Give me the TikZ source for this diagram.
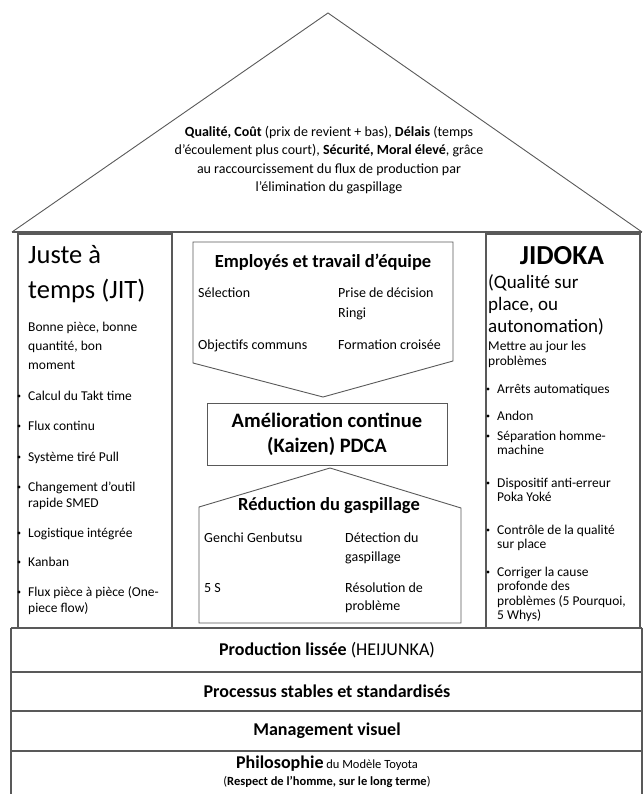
\documentclass[tikz,border=0pt]{standalone}
\usepackage{fontspec}
\setmainfont{Carlito}

% lines stacked from the first baseline down
\newcommand{\stacked}[1]{\begin{tabular}[t]{@{}l@{}}#1\end{tabular}}

\begin{document}
\begin{tikzpicture}[
    x=1pt, y=-1pt,
    wall/.style={draw=black!65, line width=1.1pt},
    thinwall/.style={draw=black!65, line width=0.9pt},
    txt/.style={inner sep=0pt, anchor=base west},
    body/.style={txt, font=\fontsize{14}{19}\selectfont},
    item/.style={txt, font=\fontsize{13.5}{16.5}\selectfont},
    dot/.style={circle, fill=black, inner sep=1.1pt},
    boxhead/.style={inner sep=0pt, font=\bfseries\fontsize{18.5}{22}\selectfont},
    band/.style={inner sep=0pt, font=\bfseries\fontsize{18}{22}\selectfont}
]

\newcommand{\pillarItem}[4]{%
    \node[dot] (#1-dot) at ({#2-9},{#3-4}) {};
    \node[item] (#1) at (#2,#3) {\stacked{#4}};
}

\useasboundingbox (0,0) rectangle (643,794);

% roof
\draw[thinwall] (12,232) -- (328,13) -- (642,232);
\draw[wall, line width=1.6pt] (12,232) -- (642,232);
\node[align=center, inner sep=0pt, font=\fontsize{14}{18.5}\selectfont] (goal) at (329,160)
    {\textbf{Qualité, Coût} (prix de revient + bas), \textbf{Délais} (temps\\
     d’écoulement plus court), \textbf{Sécurité, Moral élevé}, grâce\\
     au raccourcissement du flux de production par\\
     l’élimination du gaspillage};

% pillars
\draw[wall] (18,234) rectangle (172,628);
\draw[wall] (486,234) rectangle (640,628);

% base bands
\draw[wall] (11,628) -- (11,794);
\draw[wall] (642,628) -- (642,794);
\foreach \y in {628,672,711,751}
    \draw[wall] (11,\y) -- (642,\y);

% left pillar: JIT
\node[txt, font=\fontsize{26.5}{35}\selectfont] (jit) at (28,263) {\stacked{Juste à\\temps (JIT)}};
\node[body, font=\fontsize{13.5}{19}\selectfont] (jitgoal) at (28,331) {\stacked{Bonne pièce, bonne\\quantité, bon\\moment}};
\pillarItem{takt}{28}{400}{Calcul du Takt time}
\pillarItem{flux}{28}{430}{Flux continu}
\pillarItem{pull}{28}{461}{Système tiré Pull}
\pillarItem{smed}{28}{491}{Changement d’outil\\rapide SMED}
\pillarItem{logi}{28}{537}{Logistique intégrée}
\pillarItem{kanban}{28}{566}{Kanban}
\pillarItem{onepiece}{28}{596}{Flux pièce à pièce (One-\\piece flow)}

% right pillar: JIDOKA
\node[inner sep=0pt, anchor=base, font=\bfseries\fontsize{27.5}{30}\selectfont] (jidoka) at (562,264) {JIDOKA};
\node[txt, font=\fontsize{19}{22}\selectfont] (jidokasub) at (488,288) {\stacked{(Qualité sur\\place, ou\\autonomation)}};
\node[txt, font=\fontsize{13.5}{15}\selectfont] (jidokagoal) at (488,350) {\stacked{Mettre au jour les\\problèmes}};
\begin{scope}[item/.append style={font=\fontsize{13.5}{14.5}\selectfont}]
\pillarItem{stops}{497}{393}{Arrêts automatiques}
\pillarItem{andon}{497}{420}{Andon}
\pillarItem{separation}{497}{440}{Séparation homme-\\machine}
\pillarItem{pokayoke}{497}{487}{Dispositif anti-erreur\\Poka Yoké}
\pillarItem{quality}{497}{534}{Contrôle de la qualité\\sur place}
\pillarItem{rootcause}{497}{576}{Corriger la cause\\profonde des\\problèmes (5 Pourquoi,\\5 Whys)}
\end{scope}

% centre: people and teamwork
\draw[thinwall] (193,242) -- (453,242) -- (453,361) -- (323,397) -- (193,363) -- cycle;
\node[boxhead] (team) at (323,262) {Employés et travail d’équipe};
\node[body] (selection) at (198,297) {Sélection};
\node[body, font=\fontsize{14}{20}\selectfont] (ringi) at (338,297) {\stacked{Prise de décision\\Ringi}};
\node[body] (objectives) at (198,349) {Objectifs communs};
\node[body] (training) at (338,349) {Formation croisée};

% centre: kaizen
\node[thinwall, minimum width=240, minimum height=62, align=center,
      font=\bfseries\fontsize{20.5}{25}\selectfont] (kaizen) at (327,434)
    {Amélioration continue\\(Kaizen) PDCA};

% centre: waste reduction
\draw[thinwall] (199,623) -- (199,507) -- (330,468) -- (461,508) -- (461,623) -- cycle;
\node[boxhead] (waste) at (329,506) {Réduction du gaspillage};
\node[body] (genchi) at (204,542) {Genchi Genbutsu};
\node[body] (detection) at (345,542) {\stacked{Détection du\\gaspillage}};
\node[body] (fives) at (204,592) {5 S};
\node[body, font=\fontsize{14}{18}\selectfont] (solving) at (345,592) {\stacked{Résolution de\\problème}};

% base
\node[band] (heijunka) at (327,650) {Production lissée {\mdseries(HEIJUNKA)}};
\node[band] (stable) at (327,691) {Processus stables et standardisés};
\node[band] (visual) at (327,731) {Management visuel};
\node[align=center, inner sep=0pt, font=\fontsize{12.5}{17}\selectfont] (philosophy) at (327,772)
    {{\bfseries\fontsize{18}{18}\selectfont Philosophie} du Modèle Toyota\\
     (\textbf{Respect de l’homme, sur le long terme})};

\end{tikzpicture}
\end{document}
